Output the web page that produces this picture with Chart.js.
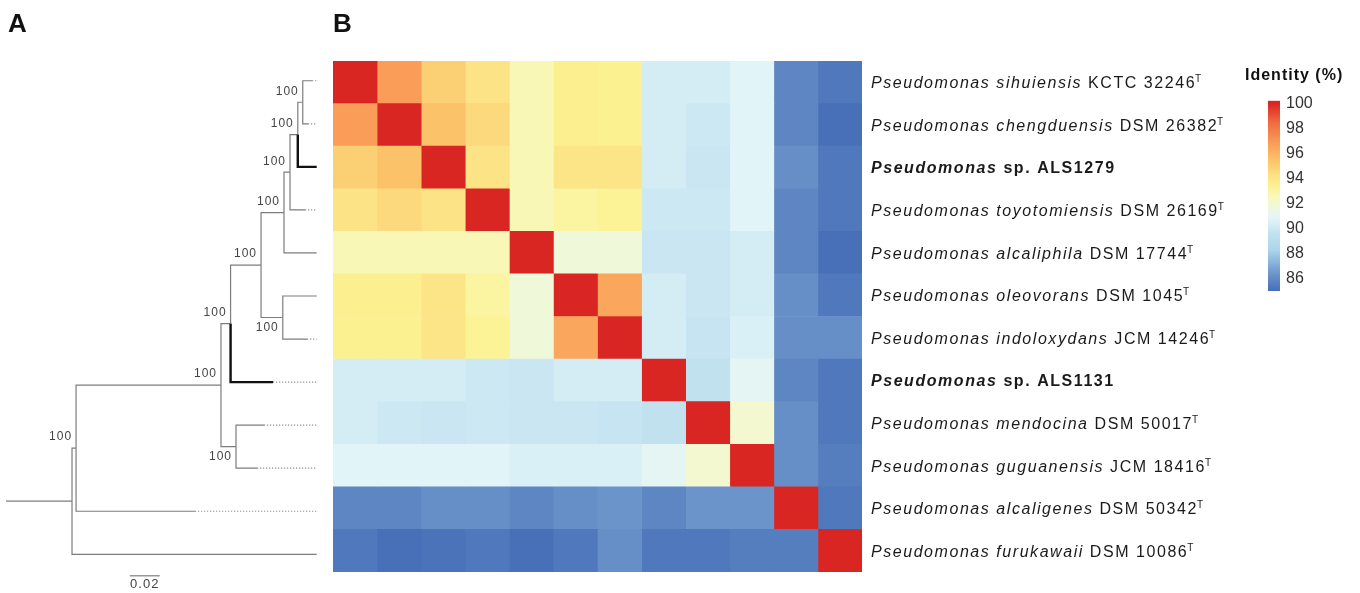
<!DOCTYPE html>
<html lang="en">
<head>
<meta charset="UTF-8">
<title>Identity heatmap</title>
<script src="https://cdn.jsdelivr.net/npm/chart.js"></script>
<style>
  body { margin: 0; background: #fff; }
  #page { position: relative; width: 1360px; height: 593px; }
  canvas { position: absolute; top: 0; }
</style>
</head>
<body>
<div id="page">
  <canvas id="heatChart" width="1360" height="593" style="left:0"></canvas>
  <canvas id="treeChart" width="330" height="593" style="left:0"></canvas>
  <canvas id="barChart" width="120" height="593" style="left:1240px"></canvas>
</div>

<script>
// ---- data ----
const species = ['sihuiensis', 'chengduensis', 'sp.', 'toyotomiensis', 'alcaliphila', 'oleovorans',
                 'indoloxydans', 'sp.', 'mendocina', 'guguanensis', 'alcaligenes', 'furukawaii'];
const strains = ['KCTC 32246', 'DSM 26382', 'ALS1279', 'DSM 26169', 'DSM 17744', 'DSM 1045',
                 'JCM 14246', 'ALS1131', 'DSM 50017', 'JCM 18416', 'DSM 50342', 'DSM 10086'];
const isolates = [false, false, true, false, false, false, false, true, false, false, false, false];

// identity (%) one row per strain, columns in the same order
const r01 = [100, 96.8, 95.0, 94.2, 92.7, 93.5, 93.4, 90.3, 90.3, 90.8, 85.9, 85.4];
const r02 = [96.8, 100, 95.5, 94.6, 92.7, 93.5, 93.4, 90.3, 90.0, 90.8, 85.9, 85.1];
const r03 = [95.0, 95.5, 100, 94.2, 92.7, 94.1, 94.1, 90.3, 89.9, 90.8, 86.2, 85.4];
const r04 = [94.2, 94.6, 94.2, 100, 92.7, 93.1, 93.3, 90.0, 90.0, 90.8, 85.9, 85.4];
const r05 = [92.7, 92.7, 92.7, 92.7, 100, 91.7, 91.7, 89.9, 89.9, 90.3, 85.9, 85.1];
const r06 = [93.5, 93.5, 94.1, 93.1, 91.7, 100, 96.5, 90.3, 89.9, 90.3, 86.2, 85.4];
const r07 = [93.4, 93.4, 94.1, 93.3, 91.7, 96.5, 100, 90.3, 89.8, 90.5, 86.2, 86.2];
const r08 = [90.3, 90.3, 90.3, 90.0, 89.9, 90.3, 90.3, 100, 89.6, 91.0, 85.9, 85.4];
const r09 = [90.3, 90.0, 89.9, 90.0, 89.9, 89.9, 89.8, 89.6, 100, 92.0, 86.2, 85.4];
const r10 = [90.8, 90.8, 90.8, 90.8, 90.5, 90.5, 90.5, 91.0, 92.0, 100, 86.2, 85.6];
const r11 = [85.9, 85.9, 86.2, 86.2, 85.9, 86.2, 86.4, 85.9, 86.4, 86.4, 100, 85.4];
const r12 = [85.4, 85.1, 85.2, 85.4, 85.1, 85.4, 86.2, 85.4, 85.4, 85.6, 85.6, 100];
const identity = [r01, r02, r03, r04, r05, r06, r07, r08, r09, r10, r11, r12];

// colour scale
const paletteValues = [85.1, 86.4, 88.3, 89.6, 90.3, 90.9, 91.7, 92.6, 93.4, 94.2, 95.0, 95.5, 96.8, 98.5, 100];
const paletteColors = ['#4870b8', '#6b94ca', '#acd5ea', '#c1e1ef', '#d4edf5', '#e4f5f8', '#f0f8da', '#f9f8bc',
                       '#fcf190', '#fce385', '#fbcf73', '#fcc26a', '#f99d58', '#ef6a3f', '#d92623'];
const colorbarTicks = [86, 88, 90, 92, 94, 96, 98, 100];
const colorbarRange = [85.05, 100.2];

// tree: leaves are 0..11 (same order as rows), depth in substitutions/site
const leafDepth = [0.204, 0.2013, 0.2071, 0.1993, 0.2071, 0.2071, 0.2007, 0.178, 0.172, 0.1673, 0.126, 0.2071];
const tipDepth = 0.2071;
const nodeNames = ['X', 'Y', 'Z', 'W', 'OI', 'V', 'U', 'MG', 'T', 'S', 'R'];
const nodeChildren = [[0, 1], ['X', 2], ['Y', 3], ['Z', 4], [5, 6], ['W', 'OI'], ['V', 7], [8, 9], ['U', 'MG'], ['T', 10], ['S', 11]];
const nodeDepth = [0.1978, 0.1945, 0.1893, 0.1853, 0.1845, 0.17, 0.1497, 0.1533, 0.1433, 0.0467, 0.044];
const nodeSupport = [100, 100, 100, 100, 100, 100, 100, 100, 100, 100, null];
const scaleBar = [0.0825, 0.1025];

const FONT = 'Arial, "Liberation Sans", sans-serif';

// ---- helpers ----
function hexRgb(h) {
  return [parseInt(h.slice(1, 3), 16), parseInt(h.slice(3, 5), 16), parseInt(h.slice(5, 7), 16)];
}
function colorFor(v) {
  if (v <= paletteValues[0]) return paletteColors[0];
  for (let k = 1; k < paletteValues.length; k++) {
    if (v <= paletteValues[k]) {
      const t = (v - paletteValues[k - 1]) / (paletteValues[k] - paletteValues[k - 1]);
      const a = hexRgb(paletteColors[k - 1]), b = hexRgb(paletteColors[k]);
      return 'rgb(' + a.map((c, n) => Math.round(c + (b[n] - c) * t)).join(',') + ')';
    }
  }
  return paletteColors[paletteColors.length - 1];
}
function refY(ref) {
  if (typeof ref === 'number') return ref;
  const kids = nodeChildren[nodeNames.indexOf(ref)];
  return (refY(kids[0]) + refY(kids[kids.length - 1])) / 2;
}
function refDepth(ref) {
  return typeof ref === 'number' ? leafDepth[ref] : nodeDepth[nodeNames.indexOf(ref)];
}

// ---- heatmap ----
const labelPlugin = {
  id: 'labels',
  afterDraw(chart) {
    const ctx = chart.ctx;
    const ys = chart.scales.y;
    ctx.save();
    ctx.fillStyle = '#111';
    ctx.textBaseline = 'alphabetic';
    ctx.font = 'bold 26px ' + FONT;
    ctx.fillText('A', 8, 32);
    ctx.fillText('B', 333, 32);

    for (let i = 0; i < species.length; i++) {
      let x = 871;
      const y = ys.getPixelForValue(i) + 6;
      ctx.letterSpacing = '1.55px';
      ctx.fillStyle = '#1a1a1a';
      const parts = isolates[i]
        ? [['italic bold 16px ' + FONT, 'Pseudomonas'], ['bold 16px ' + FONT, ' sp. ' + strains[i]]]
        : [['italic 16px ' + FONT, 'Pseudomonas ' + species[i]], ['16px ' + FONT, ' ' + strains[i]]];
      parts.forEach(p => {
        ctx.font = p[0];
        ctx.fillText(p[1], x, y);
        x += ctx.measureText(p[1]).width;
      });
      if (!isolates[i]) {
        ctx.letterSpacing = '0px';
        ctx.font = '10px ' + FONT;
        ctx.fillText('T', x - 1, y - 6);
      }
    }

    ctx.letterSpacing = '1px';
    ctx.font = 'bold 16px ' + FONT;
    ctx.fillStyle = '#111';
    ctx.fillText('Identity (%)', 1245, 79.5);
    ctx.restore();
  }
};

new Chart(document.getElementById('heatChart'), {
  type: 'bar',
  data: {
    labels: species.map((s, i) => 'Pseudomonas ' + s + ' ' + strains[i]),
    datasets: identity.map((_, j) => ({
      data: identity.map(() => 1),
      backgroundColor: identity.map(row => colorFor(row[j])),
      borderWidth: 0,
      barPercentage: 1,
      categoryPercentage: 1
    }))
  },
  options: {
    indexAxis: 'y',
    responsive: false,
    animation: false,
    layout: { padding: { left: 333, right: 498, top: 61, bottom: 21 } },
    scales: {
      x: { stacked: true, min: 0, max: 12, display: false },
      y: { stacked: true, display: false }
    },
    plugins: { legend: { display: false }, tooltip: { enabled: false } }
  },
  plugins: [labelPlugin]
});

// ---- colour bar ----
new Chart(document.getElementById('barChart'), {
  type: 'bar',
  data: {
    labels: ['Identity'],
    datasets: [{
      data: [colorbarRange],
      barPercentage: 1,
      categoryPercentage: 1,
      borderWidth: 0,
      backgroundColor(c) {
        const chart = c.chart;
        if (!chart.chartArea) return paletteColors[0];
        const ys = chart.scales.y;
        const lo = paletteValues[0], hi = paletteValues[paletteValues.length - 1];
        const g = chart.ctx.createLinearGradient(0, ys.getPixelForValue(lo), 0, ys.getPixelForValue(hi));
        paletteValues.forEach((v, k) => g.addColorStop((v - lo) / (hi - lo), paletteColors[k]));
        return g;
      }
    }]
  },
  options: {
    responsive: false,
    animation: false,
    layout: { padding: { left: 28, right: 20, top: 100.7, bottom: 302 } },
    scales: {
      x: { display: false },
      y: {
        position: 'right',
        min: colorbarRange[0],
        max: colorbarRange[1],
        grid: { display: false, drawTicks: false },
        border: { display: false },
        ticks: { color: '#333', font: { size: 16, family: FONT }, padding: 6 },
        afterBuildTicks(s) { s.ticks = colorbarTicks.map(v => ({ value: v })); },
        afterFit(s) { s.width = 60; }
      }
    },
    plugins: { legend: { display: false }, tooltip: { enabled: false } }
  }
});

// ---- tree ----
const treeSets = [];
function line(points, thick, dotted) {
  treeSets.push({
    data: points,
    showLine: true,
    pointRadius: 0,
    borderColor: thick ? '#111' : (dotted ? '#8c8c8c' : '#7d7d7d'),
    borderWidth: thick ? 2.4 : 1.2,
    borderDash: dotted ? [1.2, 1.8] : [],
    borderJoinStyle: 'miter',
    clip: false
  });
}
nodeNames.forEach((name, n) => {
  const px = nodeDepth[n], py = refY(name);
  nodeChildren[n].forEach(c => {
    const cy = refY(c);
    line([{ x: px, y: py }, { x: px, y: cy }, { x: refDepth(c), y: cy }], typeof c === 'number' && isolates[c], false);
  });
});
leafDepth.forEach((d, i) => {
  if (d < tipDepth) line([{ x: d, y: i }, { x: tipDepth, y: i }], false, true);
});
line([{ x: 0, y: refY('R') }, { x: nodeDepth[nodeNames.indexOf('R')], y: refY('R') }], false, false);
line([{ x: scaleBar[0], y: 11.5 }, { x: scaleBar[1], y: 11.5 }], false, false);

const supportPlugin = {
  id: 'support',
  afterDraw(chart) {
    const ctx = chart.ctx, xs = chart.scales.x, ys = chart.scales.y;
    ctx.save();
    ctx.fillStyle = '#444';
    ctx.font = '12px ' + FONT;
    ctx.letterSpacing = '1px';
    ctx.textAlign = 'right';
    ctx.textBaseline = 'middle';
    nodeNames.forEach((name, n) => {
      if (nodeSupport[n] == null) return;
      const parent = nodeChildren.findIndex(k => k.includes(name));
      const below = parent >= 0 && nodeChildren[parent][1] === name;
      const x = xs.getPixelForValue(nodeDepth[n]) - 4;
      const y = ys.getPixelForValue(refY(name)) + (below ? 10 : -11);
      ctx.fillText(String(nodeSupport[n]), x, y);
    });
    ctx.textAlign = 'center';
    ctx.font = '13px ' + FONT;
    ctx.fillText('0.02', (xs.getPixelForValue(scaleBar[0]) + xs.getPixelForValue(scaleBar[1])) / 2, ys.getPixelForValue(11.5) + 9);
    ctx.restore();
  }
};

new Chart(document.getElementById('treeChart'), {
  type: 'scatter',
  data: { datasets: treeSets },
  options: {
    responsive: false,
    animation: false,
    layout: { padding: { left: 6, right: 13.3, top: 59.2, bottom: 17.2 } },
    scales: {
      x: { type: 'linear', min: 0, max: tipDepth, display: false },
      y: { type: 'linear', min: -0.5, max: 11.5, reverse: true, display: false }
    },
    plugins: { legend: { display: false }, tooltip: { enabled: false } }
  },
  plugins: [supportPlugin]
});
</script>
</body>
</html>
